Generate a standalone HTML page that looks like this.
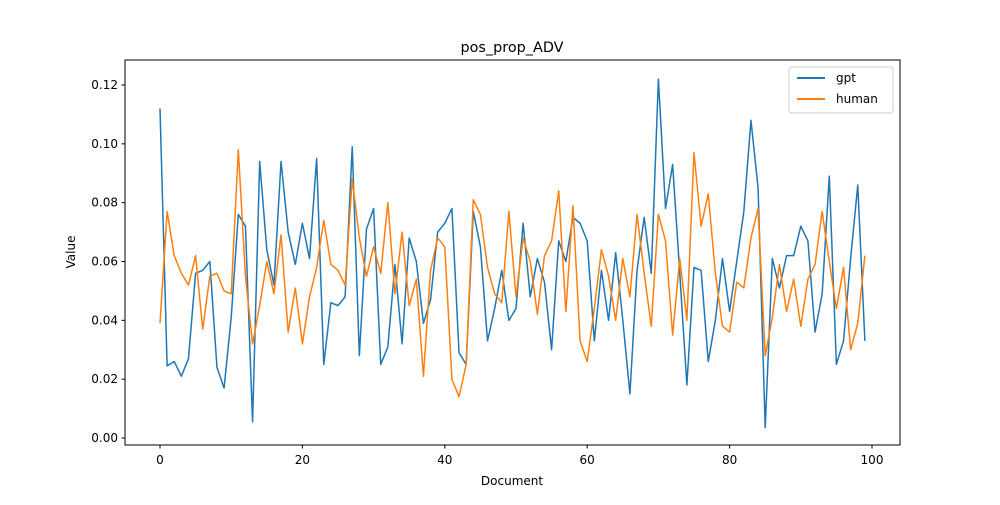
<!DOCTYPE html>
<html><head><meta charset="utf-8"><style>
body{margin:0;background:#fff;font-family:"Liberation Sans","DejaVu Sans",sans-serif}
svg text{font-family:"DejaVu Sans","Liberation Sans",sans-serif;font-size:12px;fill:#000}
</style></head><body>
<svg width="1000" height="500">
<rect width="1000" height="500" fill="#fff"/>
<text x="512" y="52" text-anchor="middle" style="font-size:14.4px">pos_prop_ADV</text>
<g id="ticks"></g>
<g id="lines"></g>
<rect x="125" y="60" width="775" height="385" fill="none" stroke="#000" stroke-width="1"/>
<text x="512" y="485" text-anchor="middle">Document</text>
<text transform="translate(75,252) rotate(-90)" text-anchor="middle">Value</text>
<g>
<rect x="789" y="67" width="104" height="46" rx="3" fill="#fff" stroke="#ccc"/>
<line x1="797" y1="78" x2="825" y2="78" stroke="#1f77b4" stroke-width="2"/>
<text x="836" y="82">gpt</text>
<line x1="797" y1="99" x2="825" y2="99" stroke="#ff7f0e" stroke-width="2"/>
<text x="836" y="103">human</text>
</g>
</svg>
<script>
const xTicks=[0,20,40,60,80,100];
const yTicks=[0.00,0.02,0.04,0.06,0.08,0.10,0.12];
const gpt=[0.112,0.0245,0.026,0.021,0.027,0.056,0.057,0.060,0.024,0.017,0.041,0.076,0.072,0.0055,0.094,0.064,0.052,0.094,0.070,0.059,0.073,0.061,0.095,0.025,0.046,0.045,0.048,0.099,0.028,0.071,0.078,0.025,0.031,0.059,0.032,0.068,0.060,0.039,0.047,0.070,0.073,0.078,0.029,0.025,0.077,0.065,0.033,0.044,0.057,0.040,0.044,0.073,0.048,0.061,0.053,0.030,0.067,0.060,0.075,0.073,0.067,0.033,0.057,0.040,0.063,0.040,0.015,0.057,0.075,0.056,0.122,0.078,0.093,0.056,0.018,0.058,0.057,0.026,0.040,0.061,0.043,0.060,0.077,0.108,0.085,0.0035,0.061,0.051,0.062,0.062,0.072,0.067,0.036,0.049,0.089,0.025,0.033,0.061,0.086,0.033];
const human=[0.039,0.077,0.062,0.056,0.052,0.062,0.037,0.055,0.056,0.050,0.049,0.098,0.055,0.032,0.045,0.060,0.049,0.069,0.036,0.051,0.032,0.048,0.058,0.074,0.059,0.057,0.052,0.088,0.068,0.055,0.065,0.056,0.080,0.049,0.070,0.045,0.054,0.021,0.057,0.068,0.065,0.020,0.014,0.025,0.081,0.076,0.058,0.049,0.046,0.077,0.048,0.068,0.060,0.042,0.062,0.067,0.084,0.043,0.079,0.033,0.026,0.044,0.064,0.055,0.040,0.061,0.048,0.076,0.056,0.038,0.076,0.067,0.035,0.061,0.040,0.097,0.072,0.083,0.056,0.038,0.036,0.053,0.051,0.068,0.078,0.028,0.041,0.059,0.043,0.054,0.038,0.054,0.059,0.077,0.060,0.044,0.058,0.030,0.039,0.062];
const NS="http://www.w3.org/2000/svg";
const xs=v=>160+v*7.12;
const ys=v=>438-v*2941.7;
const tg=document.getElementById('ticks');
function mk(t,a,p){const e=document.createElementNS(NS,t);for(const k in a)e.setAttribute(k,a[k]);p.appendChild(e);return e;}
xTicks.forEach(t=>{
 const l=mk('line',{x1:xs(t),x2:xs(t),y1:445,y2:448.5,stroke:'#000'},tg);
 
 
 const tx=mk('text',{x:xs(t),y:464,'text-anchor':'middle'},tg);tx.textContent=t;
 
 
});
yTicks.forEach(t=>{
 const l=mk('line',{x1:121.5,x2:125,y1:ys(t),y2:ys(t),stroke:'#000'},tg);
 
 
 const tx=mk('text',{x:118,y:ys(t)+4,'text-anchor':'end'},tg);tx.textContent=t.toFixed(2);
 
 
});
const lg=document.getElementById('lines');
[[gpt,'#1f77b4','gpt-line'],[human,'#ff7f0e','human-line']].forEach(([d,c,n])=>{
 const p=mk('polyline',{points:d.map((v,i)=>xs(i)+','+ys(v)).join(' '),fill:'none',stroke:c,'stroke-width':1.5,'stroke-linejoin':'round'},lg);
 
 
});
</script>
</body></html>
